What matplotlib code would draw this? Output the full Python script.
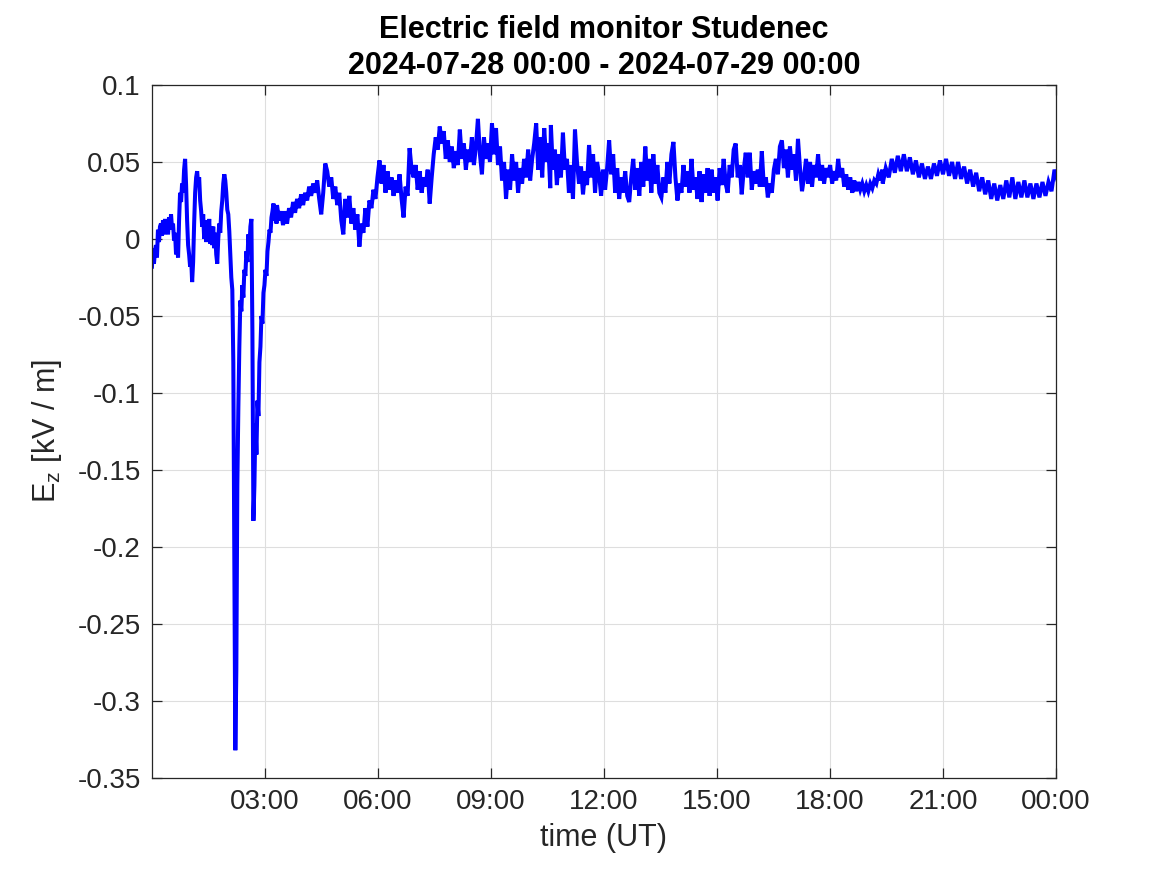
import numpy as np
import matplotlib
matplotlib.use("Agg")
import matplotlib.pyplot as plt

plt.rcParams["font.family"] = ["Liberation Sans", "DejaVu Sans"]
plt.rcParams["mathtext.fontset"] = "custom"
plt.rcParams["mathtext.rm"] = "Liberation Sans"
plt.rcParams["mathtext.it"] = "Liberation Sans"

# E_z readings (kV/m), four stretches of the day, each sampled evenly
# start time (hours) and sample spacing (minutes) for every stretch
night_start, night_step = 0.0, 1.6
morning_start, morning_step = 3.32, 3.2
afternoon_start, afternoon_step = 10.59, 3.2
evening_start, evening_step = 19.40, 4.8

night = [
    -0.018, -0.006, -0.016, -0.008, -0.004, -0.012, 0.006, -0.002, 0.008, 0.010,
    0.002, 0.012, 0.003, 0.013, 0.004, 0.011, 0.003, 0.014, 0.006, 0.016,
    0.007, 0.010, -0.001, 0.004, -0.010, -0.003, -0.012, 0.012, 0.030, 0.024,
    0.036, 0.030, 0.045, 0.052, 0.035, 0.012, -0.004, -0.010, -0.018, -0.012,
    -0.028, -0.015, 0.010, 0.030, 0.040, 0.044, 0.035, 0.040, 0.025, 0.018,
    0.008, 0.016, 0.000, 0.012, -0.002, 0.010, 0.001, 0.013, -0.003, 0.008,
    -0.004, 0.008, -0.006, 0.004, -0.010, -0.016, 0.000, 0.010, 0.004, 0.018,
    0.025, 0.036, 0.042, 0.038, 0.030, 0.019, 0.016, 0.005, -0.010, -0.025,
    -0.033, -0.080, -0.200, -0.332, -0.280, -0.160, -0.110, -0.070, -0.040, -0.047,
    -0.030, -0.038, -0.020, -0.024, -0.008, -0.015, 0.003, -0.006, 0.008, 0.013,
    -0.060, -0.183, -0.160, -0.120, -0.140, -0.105, -0.115, -0.080, -0.070, -0.050,
    -0.055, -0.035, -0.030, -0.020, -0.024, -0.008, -0.002, 0.006, 0.004, 0.014,
    0.018, 0.023, 0.012, 0.020, 0.010,
]

morning = [
    0.022, 0.012, 0.018, 0.009, 0.018, 0.010, 0.020, 0.014, 0.024, 0.017,
    0.026, 0.020, 0.029, 0.022, 0.030, 0.025, 0.034, 0.028, 0.036, 0.030,
    0.038, 0.026, 0.016, 0.030, 0.049, 0.044, 0.034, 0.040, 0.026, 0.034,
    0.022, 0.030, 0.012, 0.003, 0.026, 0.014, 0.028, 0.010, 0.020, 0.006,
    0.016, -0.005, 0.010, 0.004, 0.020, 0.008, 0.025, 0.020, 0.032, 0.026,
    0.040, 0.051, 0.036, 0.048, 0.030, 0.044, 0.032, 0.040, 0.028, 0.038,
    0.030, 0.042, 0.026, 0.014, 0.034, 0.028, 0.059, 0.045, 0.040, 0.048,
    0.032, 0.044, 0.030, 0.040, 0.034, 0.045, 0.023, 0.040, 0.055, 0.066,
    0.058, 0.073, 0.062, 0.070, 0.052, 0.064, 0.050, 0.060, 0.046, 0.057,
    0.048, 0.071, 0.052, 0.062, 0.045, 0.058, 0.050, 0.066, 0.048, 0.060,
    0.078, 0.055, 0.042, 0.066, 0.052, 0.062, 0.050, 0.075, 0.055, 0.072,
    0.048, 0.060, 0.038, 0.050, 0.026, 0.045, 0.032, 0.055, 0.038, 0.050,
    0.030, 0.046, 0.036, 0.052, 0.040, 0.058, 0.038, 0.052, 0.062, 0.075,
    0.045, 0.066, 0.040, 0.072, 0.050, 0.062, 0.033,
]

afternoon = [
    0.074, 0.045, 0.058, 0.035, 0.055, 0.040, 0.069, 0.045, 0.052, 0.030,
    0.048, 0.026, 0.071, 0.050, 0.036, 0.047, 0.029, 0.044, 0.035, 0.061,
    0.040, 0.055, 0.030, 0.050, 0.042, 0.028, 0.045, 0.032, 0.046, 0.064,
    0.042, 0.055, 0.030, 0.046, 0.026, 0.040, 0.030, 0.044, 0.028, 0.024,
    0.040, 0.052, 0.032, 0.046, 0.028, 0.050, 0.034, 0.060, 0.038, 0.052,
    0.030, 0.055, 0.036, 0.048, 0.030, 0.027, 0.040, 0.030, 0.050, 0.036,
    0.055, 0.063, 0.040, 0.025, 0.036, 0.030, 0.048, 0.034, 0.044, 0.030,
    0.052, 0.032, 0.040, 0.026, 0.044, 0.024, 0.042, 0.030, 0.046, 0.028,
    0.045, 0.030, 0.040, 0.025, 0.046, 0.035, 0.052, 0.036, 0.030, 0.048,
    0.040, 0.058, 0.062, 0.040, 0.048, 0.029, 0.045, 0.056, 0.040, 0.056,
    0.032, 0.044, 0.036, 0.045, 0.034, 0.057, 0.034, 0.040, 0.027, 0.036,
    0.030, 0.045, 0.052, 0.042, 0.060, 0.064, 0.046, 0.058, 0.040, 0.060,
    0.045, 0.055, 0.038, 0.065, 0.046, 0.031, 0.040, 0.052, 0.036, 0.050,
    0.034, 0.048, 0.040, 0.055, 0.038, 0.048, 0.036, 0.046, 0.040, 0.048,
    0.036, 0.044, 0.038, 0.052, 0.040, 0.046, 0.034, 0.042, 0.032, 0.040,
    0.030, 0.038, 0.031, 0.037, 0.032, 0.036, 0.031, 0.035, 0.031, 0.036,
    0.033, 0.038, 0.036, 0.042, 0.038, 0.045,
]

evening = [
    0.036, 0.046, 0.040, 0.052, 0.043, 0.054, 0.044, 0.055, 0.044, 0.053,
    0.042, 0.051, 0.040, 0.049, 0.039, 0.047, 0.039, 0.049, 0.041, 0.051,
    0.042, 0.052, 0.041, 0.050, 0.039, 0.050, 0.039, 0.047, 0.036, 0.045,
    0.034, 0.043, 0.031, 0.040, 0.029, 0.038, 0.026, 0.036, 0.025, 0.035,
    0.026, 0.038, 0.027, 0.040, 0.026, 0.037, 0.027, 0.038, 0.027, 0.036,
    0.026, 0.036, 0.027, 0.037, 0.028, 0.037, 0.031, 0.045, 0.038,
]

x_ticks = [3, 6, 9, 12, 15, 18, 21, 24]
x_labels = ["03:00", "06:00", "09:00", "12:00", "15:00", "18:00", "21:00", "00:00"]
y_ticks = [-0.35, -0.3, -0.25, -0.2, -0.15, -0.1, -0.05, 0, 0.05, 0.1]
y_labels = ["-0.35", "-0.3", "-0.25", "-0.2", "-0.15", "-0.1", "-0.05", "0", "0.05", "0.1"]


def times(start, step, vals):
    return start + np.arange(len(vals)) * step / 60.0


t = np.concatenate([
    times(night_start, night_step, night),
    times(morning_start, morning_step, morning),
    times(afternoon_start, afternoon_step, afternoon),
    times(evening_start, evening_step, evening),
])
ez = np.concatenate([night, morning, afternoon, evening])

fig = plt.figure(figsize=(11.67, 8.75), dpi=100)
ax = fig.add_axes([0.1302, 0.1109, 0.7747, 0.7920])

ax.plot(t, ez, color=(0, 0, 1), linewidth=2.9, solid_joinstyle="miter")

ax.set_xlim(0, 24)
ax.set_ylim(-0.35, 0.1)
ax.set_xticks(x_ticks)
ax.set_xticklabels(x_labels)
ax.set_yticks(y_ticks)
ax.set_yticklabels(y_labels)

ax.grid(True, color="#dedede", linewidth=0.8)
ax.set_axisbelow(True)
for s in ax.spines.values():
    s.set_color("#262626")
    s.set_linewidth(0.9)
ax.tick_params(direction="in", length=7, width=0.9, colors="#262626",
               labelsize=20, top=True, right=True, pad=8)

ax.set_xlabel("time (UT)", fontsize=22, color="#262626", labelpad=6)
ax.set_ylabel(r"E$_\mathregular{z}$ [kV / m]", fontsize=22, color="#262626", labelpad=10)
ax.set_title("Electric field monitor Studenec\n2024-07-28 00:00 - 2024-07-29 00:00",
             fontsize=22, fontweight="bold", linespacing=1.25, pad=8)

fig.savefig("out.png", dpi=100)
